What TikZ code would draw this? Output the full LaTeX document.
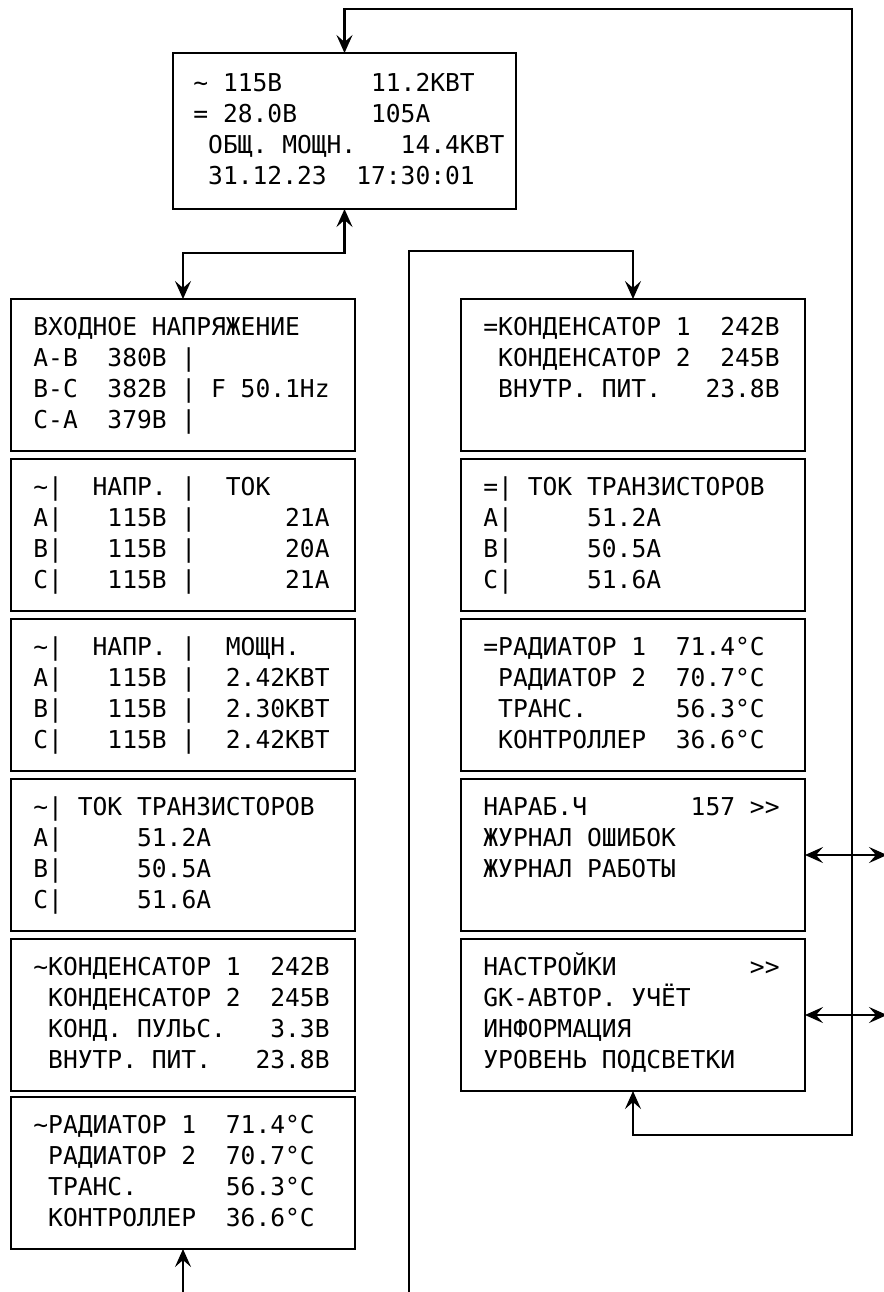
\documentclass[tikz,border=0pt]{standalone}
\usepackage{fontspec}
\newfontfamily\lcdfont{DejaVu Sans Mono}
\usetikzlibrary{arrows.meta}
\newcommand\lcdpanel[4]{\foreach \lline [count=\i from 0] in {#4}{\node[txt] (#1-\i) at ({#2},{#3+31*\i}) {\lline};}}
\begin{document}
\begin{tikzpicture}[x=0.5pt,y=-0.5pt,
  box/.style={draw, line width=1.2pt, minimum width=172pt, minimum height=76pt, inner sep=0pt, outer sep=0pt},
  txt/.style={font=\lcdfont\fontsize{12.3pt}{15pt}\selectfont, inner sep=0pt, anchor=base west},
  conn/.style={line width=1.1pt},
  >={Stealth[length=9pt,width=8pt,inset=3.5pt]}]
\useasboundingbox (0,0) rectangle (884,1292);
\fill[white] (0,0) rectangle (884,1292);

% boxes
\node[box, minimum width=171.5pt, minimum height=78pt] (T) at (344.5,131) {};
\node[box] (L1) at (183,375) {};
\node[box] (L2) at (183,535) {};
\node[box] (L3) at (183,695) {};
\node[box] (L4) at (183,855) {};
\node[box] (L5) at (183,1015) {};
\node[box] (L6) at (183,1173) {};
\node[box] (R1) at (633,375) {};
\node[box] (R2) at (633,535) {};
\node[box] (R3) at (633,695) {};
\node[box] (R4) at (633,855) {};
\node[box] (R5) at (633,1015) {};

% texts
\lcdpanel{Tt}{193}{91}{{\textasciitilde~115В~~~~~~11.2КВТ},{=~28.0В~~~~~105А},{~ОБЩ.~МОЩН.~~~14.4КВТ},{~31.12.23~~17:30:01}}
\lcdpanel{L1t}{33}{335}{{ВХОДНОЕ~НАПРЯЖЕНИЕ},{A-B~~380В~|},{B-C~~382В~|~F~50.1Hz},{C-A~~379В~|}}
\lcdpanel{L2t}{33}{495}{{\textasciitilde|~~НАПР.~|~~ТОК},{A|~~~115В~|~~~~~~21А},{B|~~~115В~|~~~~~~20А},{C|~~~115В~|~~~~~~21А}}
\lcdpanel{L3t}{33}{655}{{\textasciitilde|~~НАПР.~|~~МОЩН.},{A|~~~115В~|~~2.42КВТ},{B|~~~115В~|~~2.30КВТ},{C|~~~115В~|~~2.42КВТ}}
\lcdpanel{L4t}{33}{815}{{\textasciitilde|~ТОК~ТРАНЗИСТОРОВ},{A|~~~~~51.2А},{B|~~~~~50.5А},{C|~~~~~51.6А}}
\lcdpanel{L5t}{33}{975}{{\textasciitilde{}КОНДЕНСАТОР~1~~242В},{~КОНДЕНСАТОР~2~~245В},{~КОНД.~ПУЛЬС.~~~3.3В},{~ВНУТР.~ПИТ.~~~23.8В}}
\lcdpanel{L6t}{33}{1133}{{\textasciitilde{}РАДИАТОР~1~~71.4°C},{~РАДИАТОР~2~~70.7°C},{~ТРАНС.~~~~~~56.3°C},{~КОНТРОЛЛЕР~~36.6°C}}
\lcdpanel{R1t}{483}{335}{{=КОНДЕНСАТОР~1~~242В},{~КОНДЕНСАТОР~2~~245В},{~ВНУТР.~ПИТ.~~~23.8В}}
\lcdpanel{R2t}{483}{495}{{=|~ТОК~ТРАНЗИСТОРОВ},{A|~~~~~51.2А},{B|~~~~~50.5А},{C|~~~~~51.6А}}
\lcdpanel{R3t}{483}{655}{{=РАДИАТОР~1~~71.4°C},{~РАДИАТОР~2~~70.7°C},{~ТРАНС.~~~~~~56.3°C},{~КОНТРОЛЛЕР~~36.6°C}}
\lcdpanel{R4t}{483}{815}{{НАРАБ.Ч~~~~~~~157~>\kern0pt>},{ЖУРНАЛ~ОШИБОК},{ЖУРНАЛ~РАБОТЫ}}
\lcdpanel{R5t}{483}{975}{{НАСТРОЙКИ~~~~~~~~~>\kern0pt>},{GK-АВТОР.~УЧЁТ},{ИНФОРМАЦИЯ},{УРОВЕНЬ~ПОДСВЕТКИ}}

% helper coordinates
\coordinate (lh) at (183,253);
\coordinate (rb) at (409,1296);
\coordinate (rh) at (409,251);
\coordinate (lb) at (183,1296);
\coordinate (lp1) at (852,1135);
\coordinate (lp2) at (852,9);
\coordinate (xr) at (887,0);

% connectors
\draw[conn,<->] (T.south) |- (lh) -- (L1.north);
\draw[conn,->] (rb) -- (rh) -| (R1.north);
\draw[conn,->] (lb) -- (L6.south);
\draw[conn,<->] (R5.south) |- (lp1) -- (lp2) -| (T.north);
\draw[conn,<->] (R4.east) -- (R4.east -| xr);
\draw[conn,<->] (R5.east) -- (R5.east -| xr);
\end{tikzpicture}
\end{document}
